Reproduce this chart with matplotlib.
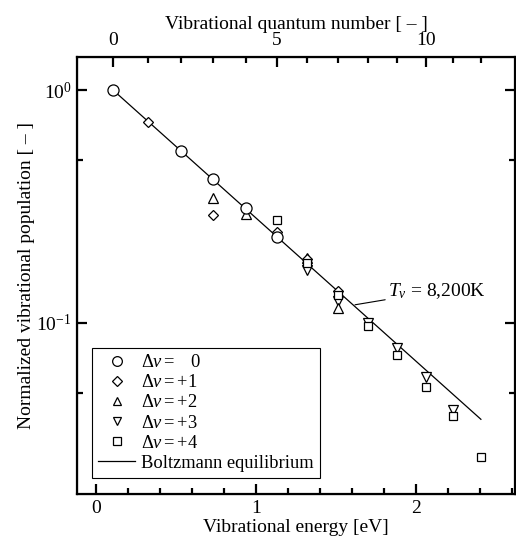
import numpy as np
import matplotlib
matplotlib.use('Agg')
import matplotlib.pyplot as plt
from matplotlib.lines import Line2D

plt.rcParams['font.family'] = ['Liberation Serif', 'DejaVu Serif']
plt.rcParams['mathtext.fontset'] = 'custom'
plt.rcParams['mathtext.rm'] = 'Liberation Serif'
plt.rcParams['mathtext.it'] = 'Liberation Serif:italic'
plt.rcParams['font.size'] = 14

level_energy = [0.106, 0.325, 0.531, 0.731, 0.9375, 1.131, 1.319,
                1.5125, 1.70, 1.881, 2.0625, 2.231, 2.406]
top_major = [0, 5, 10]

# populacoes por serie (indice do nivel, valor)
dv0_lev = [0, 2, 3, 4, 5]
dv0_pop = [1.0, 0.547, 0.414, 0.313, 0.235]
dv1_lev = [1, 3, 5, 6, 7]
dv1_pop = [0.731, 0.291, 0.245, 0.188, 0.137]
dv2_lev = [3, 4, 6, 7]
dv2_pop = [0.343, 0.293, 0.19, 0.116]
dv3_lev = [6, 7, 8, 9, 10, 11]
dv3_pop = [0.169, 0.124, 0.100, 0.078, 0.0587, 0.0424]
dv4_lev = [5, 6, 7, 8, 9, 10, 11, 12]
dv4_pop = [0.277, 0.181, 0.132, 0.097, 0.0729, 0.0529, 0.0397, 0.0267]

# reta de Boltzmann (extremos)
boltz_lev = [0, 12]
boltz_pop = [1.0, 0.0386]

E = np.array(level_energy)

fig = plt.figure(figsize=(5.16, 5.37), dpi=100)
ax = fig.add_axes([0.1492, 0.0801, 0.998 - 0.1492, 0.8939 - 0.0801])

ax.plot(E[boltz_lev], boltz_pop, color='black', lw=0.9, zorder=2)

mk = dict(ls='none', mfc='white', mec='black', mew=0.9)
ax.plot(E[dv3_lev], dv3_pop, marker='v', ms=7, zorder=3, **mk)
ax.plot(E[dv2_lev], dv2_pop, marker='^', ms=7, zorder=3, **mk)
ax.plot(E[dv1_lev], dv1_pop, marker='D', ms=5.5, zorder=4, **mk)
ax.plot(E[dv4_lev], dv4_pop, marker='s', ms=6, zorder=5, **mk)
ax.plot(E[dv0_lev], dv0_pop, marker='o', ms=8, zorder=6, **mk)

ax.set_yscale('log')
ax.set_xlim(-0.119, 2.619)
ax.set_ylim(0.01845, 1.386)

ax.set_xticks([0, 1, 2])
ax.set_xticks(np.arange(0.2, 2.61, 0.2), minor=True)
ax.set_yticks([0.1, 1.0])
ax.set_yticklabels([r'$\mathregular{10^{-1}}$', r'$\mathregular{10^{0}}$'])
ax.set_yticks([0.05, 0.5], minor=True)
ax.set_yticklabels(['', ''], minor=True)
ax.tick_params(which='both', direction='in', width=1.6, top=False, right=True)
ax.tick_params(which='major', length=7)
ax.tick_params(which='minor', length=4)
ax.tick_params(axis='x', pad=4)
ax.tick_params(axis='y', pad=4)
for s in ax.spines.values():
    s.set_linewidth(1.6)

ax.set_xlabel('Vibrational energy [eV]', labelpad=2)
ax.set_ylabel('Normalized vibrational population [ – ]', labelpad=1)

ax2 = ax.twiny()
ax2.set_xlim(ax.get_xlim())
ax2.set_xticks(E[top_major])
ax2.set_xticklabels([str(v) for v in top_major])
ax2.set_xticks([E[i] for i in range(len(E)) if i not in top_major], minor=True)
ax2.tick_params(which='both', direction='in', width=1.6)
ax2.tick_params(which='major', length=7, pad=6)
ax2.tick_params(which='minor', length=4)
ax2.set_xlabel('Vibrational quantum number [ – ]', labelpad=2)

ax.annotate(r'$T_v$ = 8,200K', xy=(1.619, 0.1197), xytext=(1.825, 0.137),
            va='center', ha='left', arrowprops=dict(arrowstyle='-', lw=0.8, shrinkA=0, shrinkB=0))

handles = [
    Line2D([], [], marker='o', ms=7, **mk),
    Line2D([], [], marker='D', ms=5, **mk),
    Line2D([], [], marker='^', ms=6, **mk),
    Line2D([], [], marker='v', ms=6, **mk),
    Line2D([], [], marker='s', ms=5.5, **mk),
    Line2D([], [], color='black', lw=0.9),
]
labels = [r'$\Delta\mathit{v} = \ \ \ 0$', r'$\Delta\mathit{v} = +1$', r'$\Delta\mathit{v} = +2$',
          r'$\Delta\mathit{v} = +3$', r'$\Delta\mathit{v} = +4$', 'Boltzmann equilibrium']
leg = ax.legend(handles, labels, loc='lower left', bbox_to_anchor=(0.034, 0.036),
                fancybox=False, edgecolor='black', framealpha=1, borderaxespad=0,
                fontsize=13.3, labelspacing=0.17, handlelength=2.0, handletextpad=0.3,
                borderpad=0.35)
leg.get_frame().set_linewidth(0.8)

fig.savefig('out.png', dpi=100)
